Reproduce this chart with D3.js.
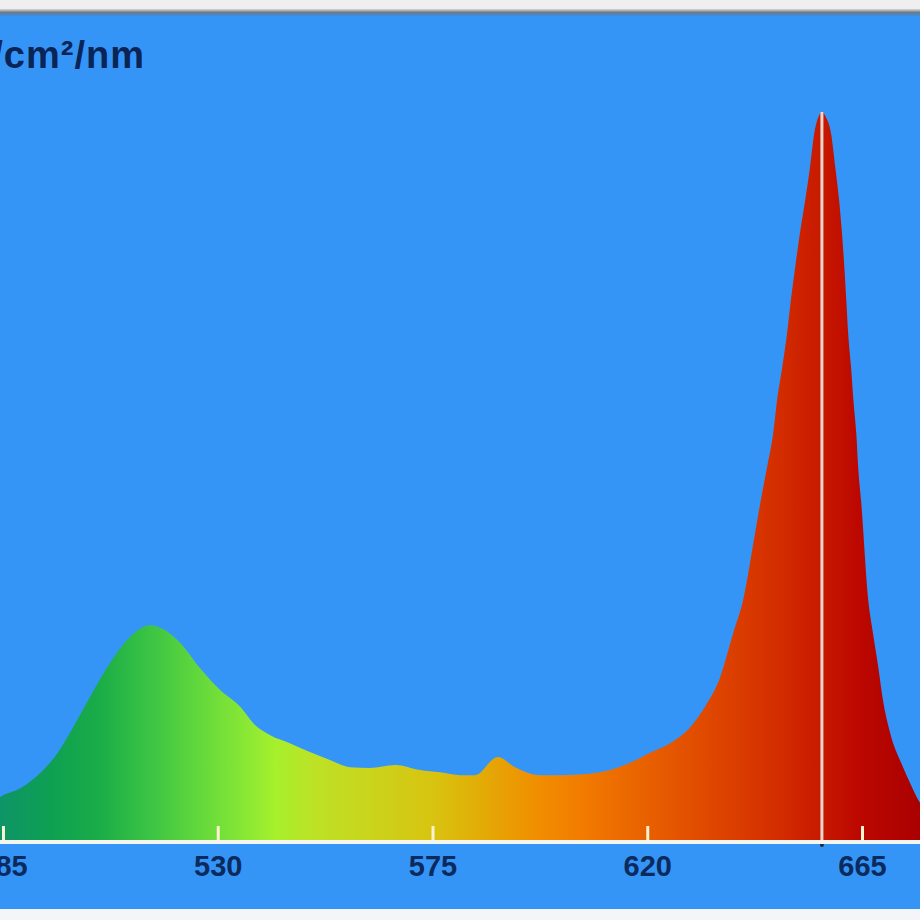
<!DOCTYPE html>
<html>
<head>
<meta charset="utf-8">
<script src="https://cdn.jsdelivr.net/npm/d3@7/dist/d3.min.js"></script>
<style>
  html, body { margin: 0; padding: 0; background: #f2f2f2; }
  svg { display: block; }
</style>
</head>
<body>
<svg id="chart" width="920" height="920"></svg>
<script>
// ---- data ----
const wavelengths = [480.2, 484.4, 488.6, 492.8, 496.9, 499.0, 503.2, 507.4, 511.6, 515.8, 519.0, 522.1,
  526.3, 530.5, 534.7, 537.8, 541.0, 545.1, 549.3, 553.5, 557.7, 561.9, 567.2, 572.4, 576.6, 580.8,
  583.9, 588.7, 592.3, 597.5, 601.7, 608.0, 612.2, 616.4, 620.6, 624.8, 629.0, 632.1, 635.3, 638.0,
  640.1, 642.6, 643.8, 645.1, 646.4, 647.2, 648.3, 649.3, 650.1, 651.0, 652.0, 653.1, 654.1, 655.0,
  655.8, 656.6, 657.5, 658.5, 659.4, 660.2, 660.8, 661.3, 661.7, 662.1, 662.7, 663.2, 663.8, 664.2,
  664.8, 666.3, 667.3, 668.4, 669.4, 670.9, 673.6, 675.1, 676.8, 679.3];
const intensity = [0.034, 0.059, 0.071, 0.092, 0.124, 0.147, 0.196, 0.243, 0.279, 0.295, 0.288, 0.271,
  0.236, 0.206, 0.183, 0.158, 0.144, 0.133, 0.121, 0.110, 0.100, 0.099, 0.103, 0.096, 0.093, 0.089,
  0.089, 0.114, 0.100, 0.089, 0.089, 0.091, 0.096, 0.106, 0.120, 0.133, 0.155, 0.183, 0.224, 0.284,
  0.330, 0.422, 0.467, 0.512, 0.559, 0.604, 0.650, 0.696, 0.742, 0.787, 0.834, 0.879, 0.924, 0.971,
  0.992, 1.000, 0.992, 0.971, 0.924, 0.879, 0.834, 0.787, 0.742, 0.696, 0.650, 0.604, 0.559, 0.512,
  0.467, 0.330, 0.284, 0.238, 0.192, 0.147, 0.100, 0.078, 0.055, 0.034];
const tickValues = [485, 530, 575, 620, 665];
const peakWavelength = 656.6;
const unitLabel = "µW/cm²/nm";

// spectrum colour stops (wavelength -> colour)
const colorStops = [
  [484, "#0e9468"], [495, "#0ea052"], [505, "#1aac48"], [516, "#3cc444"], [526, "#62d83c"],
  [536, "#8ae834"], [542, "#a6f02c"], [550, "#bce226"], [562, "#cad41c"], [575, "#d8c410"],
  [585, "#e2ac06"], [596, "#f09000"], [606, "#f27c00"], [620, "#e86000"], [635, "#de4400"],
  [648, "#d22c00"], [656, "#c81a00"], [664, "#bc0800"], [678, "#a80000"]
];

// ---- layout ----
const W = 920, H = 920;
const svg = d3.select("#chart");

const x = d3.scaleLinear().domain([485, 665]).range([3, 862]);
const y = d3.scaleLinear().domain([0, 1]).range([840, 112]);

// frame
svg.append("rect").attr("x", 0).attr("y", 0).attr("width", W).attr("height", H).attr("fill", "#f3f5f8");
const defs = svg.append("defs");
const border = defs.append("linearGradient").attr("id", "topBorder")
  .attr("x1", 0).attr("x2", 0).attr("y1", 0).attr("y2", 1);
border.append("stop").attr("offset", "0%").attr("stop-color", "#d8d8d8");
border.append("stop").attr("offset", "50%").attr("stop-color", "#6e7a86");
border.append("stop").attr("offset", "100%").attr("stop-color", "#3a8ee8");
svg.append("rect").attr("x", 0).attr("y", 0).attr("width", W).attr("height", 10).attr("fill", "#efefef");
svg.append("rect").attr("x", 0).attr("y", 9).attr("width", W).attr("height", 7).attr("fill", "url(#topBorder)");
svg.append("rect").attr("x", 0).attr("y", 16).attr("width", W).attr("height", 893).attr("fill", "#3595f7");

// gradient fill
const grad = defs.append("linearGradient").attr("id", "spectrum")
  .attr("gradientUnits", "userSpaceOnUse")
  .attr("x1", x(colorStops[0][0])).attr("x2", x(colorStops[colorStops.length - 1][0]))
  .attr("y1", 0).attr("y2", 0);
const x0 = colorStops[0][0], x1 = colorStops[colorStops.length - 1][0];
colorStops.forEach(([w, c]) => {
  grad.append("stop").attr("offset", ((w - x0) / (x1 - x0) * 100) + "%").attr("stop-color", c);
});

defs.append("clipPath").attr("id", "plotClip")
  .append("rect").attr("x", 0).attr("y", 16).attr("width", W).attr("height", 893);

const data = wavelengths.map((w, i) => ({ w, v: intensity[i] }));
const area = d3.area()
  .x(d => x(d.w))
  .y0(y(0))
  .y1(d => y(d.v))
  .curve(d3.curveMonotoneX);

const g = svg.append("g").attr("clip-path", "url(#plotClip)");
g.append("path").datum(data).attr("d", area).attr("fill", "url(#spectrum)");

// peak marker line
g.append("line")
  .attr("x1", x(peakWavelength)).attr("x2", x(peakWavelength))
  .attr("y1", y(1)).attr("y2", 844)
  .attr("stroke", "#ead6cc").attr("stroke-width", 3);
g.append("circle").attr("cx", x(peakWavelength)).attr("cy", 845).attr("r", 2).attr("fill", "#1a2a40");

// axis
const axis = d3.axisBottom(x).tickValues(tickValues).tickSize(0).tickPadding(0).tickFormat(d3.format("d"));
const ax = g.append("g").attr("transform", "translate(0,842)").call(axis);
ax.select(".domain").remove();
ax.selectAll(".tick text").remove();
g.append("line").attr("x1", 0).attr("x2", W).attr("y1", 842).attr("y2", 842)
  .attr("stroke", "#f6f6f0").attr("stroke-width", 4);
ax.selectAll(".tick").append("line")
  .attr("y1", -2).attr("y2", -16)
  .attr("stroke", "#fbf3d0").attr("stroke-width", 3);
ax.selectAll(".tick").append("text")
  .attr("y", 34)
  .attr("text-anchor", "middle")
  .attr("fill", "#0b2a5e")
  .style("font-family", "'Liberation Sans', Arial, sans-serif")
  .style("font-size", "29px")
  .style("font-weight", "bold")
  .text(d => d);

// unit label (partially off-canvas as in the reference)
svg.append("text")
  .attr("x", 145).attr("y", 68)
  .attr("text-anchor", "end")
  .attr("fill", "#0b2456")
  .style("font-family", "'Liberation Sans', Arial, sans-serif")
  .style("font-size", "38px")
  .style("font-weight", "bold")
  .style("letter-spacing", "1px")
  .text(unitLabel);
</script>
</body>
</html>
